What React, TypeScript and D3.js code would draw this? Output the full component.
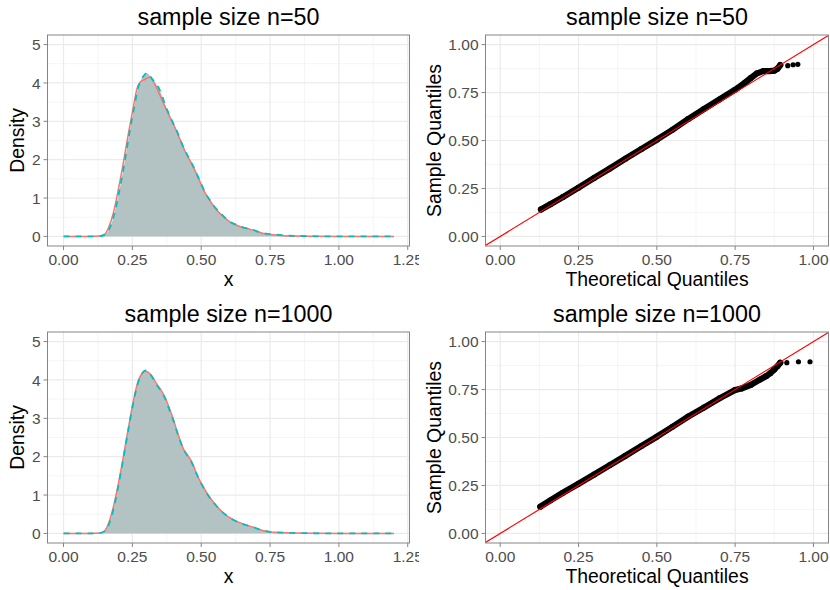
import React from 'react';
import * as d3 from 'd3';

const W = 830;
const H = 590;

const titles = ['sample size n=50', 'sample size n=1000'];
const densTicksX = [0, 0.25, 0.5, 0.75, 1, 1.25];
const densTickLabelsX = ['0.00', '0.25', '0.50', '0.75', '1.00', '1.25'];
const densMinorX = [0.125, 0.375, 0.625, 0.875, 1.125];
const densTicksY = [0, 1, 2, 3, 4, 5];
const densTickLabelsY = ['0', '1', '2', '3', '4', '5'];
const densMinorY = [0.5, 1.5, 2.5, 3.5, 4.5];
const qqTicks = [0, 0.25, 0.5, 0.75, 1];
const qqTickLabels = ['0.00', '0.25', '0.50', '0.75', '1.00'];
const qqMinor = [0.125, 0.375, 0.625, 0.875];

// n = 50 : theoretical (red, solid) and sample density (cyan, dashed)
const red50X = [0, 0.1, 0.13, 0.15, 0.163, 0.181, 0.199, 0.217, 0.236, 0.254, 0.266, 0.278, 0.295, 0.314, 0.332, 0.35, 0.368, 0.387, 0.405, 0.423, 0.441, 0.459, 0.477, 0.495, 0.513, 0.53, 0.55, 0.568, 0.586, 0.604, 0.622, 0.64, 0.658, 0.676, 0.694, 0.712, 0.731, 0.75, 0.767, 0.8, 0.84, 0.9, 1.0, 1.2];
const red50Y = [0, 0, 0.01, 0.06, 0.22, 0.61, 1.22, 1.91, 2.7, 3.39, 3.83, 4.02, 4.09, 4.15, 3.96, 3.68, 3.39, 3.1, 2.83, 2.53, 2.22, 1.98, 1.72, 1.43, 1.15, 0.95, 0.74, 0.6, 0.48, 0.38, 0.31, 0.26, 0.22, 0.19, 0.15, 0.11, 0.07, 0.05, 0.04, 0.02, 0.01, 0.005, 0, 0];
const cyan50X = [0, 0.1, 0.13, 0.15, 0.168, 0.185, 0.203, 0.221, 0.239, 0.257, 0.27, 0.283, 0.295, 0.302, 0.31, 0.322, 0.335, 0.345, 0.356, 0.368, 0.38, 0.395, 0.41, 0.425, 0.441, 0.459, 0.477, 0.495, 0.513, 0.53, 0.55, 0.568, 0.586, 0.604, 0.622, 0.64, 0.658, 0.676, 0.69, 0.7, 0.712, 0.731, 0.75, 0.767, 0.8, 0.84, 0.9, 1.0, 1.2];
const cyan50Y = [0, 0, 0.005, 0.04, 0.22, 0.6, 1.2, 1.9, 2.68, 3.38, 3.85, 4.1, 4.22, 4.26, 4.22, 4.1, 3.98, 3.88, 3.7, 3.45, 3.24, 3.0, 2.78, 2.5, 2.24, 2.0, 1.74, 1.45, 1.16, 0.96, 0.76, 0.62, 0.49, 0.38, 0.32, 0.27, 0.22, 0.19, 0.17, 0.14, 0.11, 0.08, 0.06, 0.05, 0.03, 0.015, 0.005, 0, 0];

// n = 1000
const red1000X = [0, 0.1, 0.13, 0.15, 0.163, 0.181, 0.199, 0.217, 0.236, 0.254, 0.272, 0.285, 0.296, 0.305, 0.314, 0.326, 0.338, 0.35, 0.362, 0.375, 0.387, 0.4, 0.411, 0.423, 0.435, 0.447, 0.459, 0.471, 0.483, 0.497, 0.513, 0.53, 0.55, 0.568, 0.586, 0.604, 0.622, 0.64, 0.658, 0.676, 0.694, 0.712, 0.731, 0.75, 0.767, 0.8, 0.84, 0.9, 1.0, 1.2];
const red1000Y = [0, 0, 0.01, 0.07, 0.25, 0.69, 1.29, 1.99, 2.77, 3.47, 3.99, 4.17, 4.23, 4.21, 4.16, 4.04, 3.9, 3.78, 3.64, 3.44, 3.21, 2.95, 2.69, 2.44, 2.21, 2.07, 1.95, 1.78, 1.56, 1.35, 1.14, 0.95, 0.77, 0.62, 0.5, 0.41, 0.34, 0.28, 0.23, 0.19, 0.15, 0.1, 0.06, 0.04, 0.03, 0.02, 0.01, 0.005, 0, 0];
const cyan1000X = [0, 0.1, 0.13, 0.15, 0.165, 0.183, 0.2, 0.218, 0.237, 0.255, 0.273, 0.286, 0.298, 0.306, 0.315, 0.327, 0.339, 0.35, 0.362, 0.375, 0.387, 0.4, 0.411, 0.423, 0.435, 0.447, 0.459, 0.471, 0.483, 0.497, 0.513, 0.53, 0.55, 0.568, 0.586, 0.604, 0.622, 0.64, 0.658, 0.676, 0.694, 0.712, 0.731, 0.75, 0.767, 0.8, 0.84, 0.9, 1.0, 1.2];
const cyan1000Y = [0, 0, 0.008, 0.06, 0.24, 0.68, 1.27, 1.98, 2.76, 3.46, 3.98, 4.18, 4.25, 4.22, 4.15, 4.02, 3.86, 3.76, 3.62, 3.41, 3.17, 2.92, 2.67, 2.42, 2.2, 2.06, 1.94, 1.76, 1.55, 1.34, 1.13, 0.94, 0.76, 0.61, 0.5, 0.41, 0.33, 0.28, 0.23, 0.19, 0.15, 0.1, 0.06, 0.04, 0.03, 0.02, 0.01, 0.005, 0, 0];

// Q-Q plot values (theoretical vs sample quantiles)
const qqTheo50 = [0.13, 0.16, 0.2, 0.25, 0.3, 0.35, 0.4, 0.45, 0.5, 0.55, 0.6, 0.65, 0.7, 0.75, 0.78, 0.8, 0.82, 0.84, 0.86, 0.875, 0.885, 0.894];
const qqSamp50 = [0.14, 0.168, 0.205, 0.254, 0.305, 0.354, 0.405, 0.455, 0.504, 0.556, 0.612, 0.664, 0.714, 0.765, 0.8, 0.826, 0.85, 0.862, 0.862, 0.864, 0.874, 0.893];
const qqOutTheo50 = [0.918, 0.935, 0.95];
const qqOutSamp50 = [0.89, 0.895, 0.897];
const qqTheo1000 = [0.128, 0.16, 0.2, 0.25, 0.3, 0.35, 0.4, 0.45, 0.5, 0.55, 0.6, 0.65, 0.7, 0.75, 0.77, 0.8, 0.83, 0.85, 0.862, 0.875, 0.885, 0.894];
const qqSamp1000 = [0.139, 0.172, 0.212, 0.259, 0.307, 0.356, 0.405, 0.455, 0.504, 0.556, 0.609, 0.656, 0.704, 0.748, 0.755, 0.774, 0.803, 0.821, 0.835, 0.855, 0.872, 0.89];
const qqOutTheo1000 = [0.915, 0.952, 0.989];
const qqOutSamp1000 = [0.89, 0.895, 0.895];

const FONT = 'Liberation Sans, Arial, Helvetica, sans-serif';
const TICK_FS = 15.5;
const AXIS_FS = 19.4;
const TITLE_FS = 23.3;
const TICK_COLOR = '#4d4d4d';
const BORDER = '#858585';
const GRID = '#ebebeb';
const GRID_MINOR = '#f2f2f2';

const ROW_TOP = [35, 332];
const PANEL_H = 211;

type DensProps = { top: number; title: string; rx: number[]; ry: number[]; cx: number[]; cy: number[]; id: string };

function DensityPanel({ top, title, rx, ry, cx, cy, id }: DensProps) {
  const left = 47.5;
  const right = 409.5;
  const bottom = top + PANEL_H;
  const x = d3.scaleLinear().domain([-0.06, 1.26]).range([left - 0.5, right + 1]);
  const y = d3.scaleLinear().domain([-0.25, 5.25]).range([bottom, top]);
  const redPts = rx.map((v, i) => [v, ry[i]] as [number, number]);
  const cyanPts = cx.map((v, i) => [v, cy[i]] as [number, number]);
  const line = d3.line<[number, number]>().x(d => x(d[0])).y(d => y(d[1])).curve(d3.curveMonotoneX);
  const area = d3.area<[number, number]>().x(d => x(d[0])).y0(y(0)).y1(d => y(d[1])).curve(d3.curveMonotoneX);
  const cxm = (left + right) / 2;
  const cym = (top + bottom) / 2;
  return (
    <g>
      <defs>
        <clipPath id={id}>
          <rect x={left} y={top} width={right - left} height={bottom - top} />
        </clipPath>
      </defs>
      <rect x={left} y={top} width={right - left} height={bottom - top} fill="#fff" />
      <g clipPath={`url(#${id})`}>
        {densMinorX.map(v => <line key={'mx' + v} x1={x(v)} x2={x(v)} y1={top} y2={bottom} stroke={GRID_MINOR} strokeWidth={0.8} />)}
        {densMinorY.map(v => <line key={'my' + v} y1={y(v)} y2={y(v)} x1={left} x2={right} stroke={GRID_MINOR} strokeWidth={0.8} />)}
        {densTicksX.map(v => <line key={'gx' + v} x1={x(v)} x2={x(v)} y1={top} y2={bottom} stroke={GRID} strokeWidth={1.2} />)}
        {densTicksY.map(v => <line key={'gy' + v} y1={y(v)} y2={y(v)} x1={left} x2={right} stroke={GRID} strokeWidth={1.2} />)}
        <path d={area(cyanPts) || ''} fill="#b3c3c3" />
        <path d={line(redPts) || ''} fill="none" stroke="#F8766D" strokeWidth={1.5} />
        <path d={line(cyanPts) || ''} fill="none" stroke="#00BFC4" strokeWidth={1.8} strokeDasharray="6,6" />
      </g>
      <rect x={left} y={top} width={right - left} height={bottom - top} fill="none" stroke={BORDER} strokeWidth={1} />
      {densTicksX.map((v, i) => (
        <g key={'tx' + v}>
          <line x1={x(v)} x2={x(v)} y1={bottom} y2={bottom + 4} stroke={BORDER} strokeWidth={1} />
          <text x={x(v)} y={bottom + 19} textAnchor="middle" fontSize={TICK_FS} fill={TICK_COLOR} fontFamily={FONT}>{densTickLabelsX[i]}</text>
        </g>
      ))}
      {densTicksY.map((v, i) => (
        <g key={'ty' + v}>
          <line x1={left - 4} x2={left} y1={y(v)} y2={y(v)} stroke={BORDER} strokeWidth={1} />
          <text x={left - 7} y={y(v)} dy="0.36em" textAnchor="end" fontSize={TICK_FS} fill={TICK_COLOR} fontFamily={FONT}>{densTickLabelsY[i]}</text>
        </g>
      ))}
      <text x={cxm} y={top - 10} textAnchor="middle" fontSize={TITLE_FS} fill="#000" fontFamily={FONT}>{title}</text>
      <text x={cxm} y={bottom + 39.5} textAnchor="middle" fontSize={AXIS_FS} fill="#000" fontFamily={FONT}>x</text>
      <text transform={`translate(23.5,${cym}) rotate(-90)`} textAnchor="middle" fontSize={AXIS_FS} fill="#000" fontFamily={FONT}>Density</text>
    </g>
  );
}

type QQProps = { top: number; title: string; tx: number[]; sy: number[]; ox: number[]; oy: number[]; id: string };

function QQPanel({ top, title, tx, sy, ox, oy, id }: QQProps) {
  const left = 485.5;
  const right = 828.5;
  const bottom = top + PANEL_H;
  const x = d3.scaleLinear().domain([-0.047, 1.048]).range([left, right]);
  const y = d3.scaleLinear().domain([-0.05, 1.05]).range([bottom, top]);
  const pts = tx.map((v, i) => [v, sy[i]] as [number, number]);
  const outs = ox.map((v, i) => [v, oy[i]] as [number, number]);
  const line = d3.line<[number, number]>().x(d => x(d[0])).y(d => y(d[1]));
  const cxm = (left + right) / 2;
  const cym = (top + bottom) / 2;
  return (
    <g>
      <defs>
        <clipPath id={id}>
          <rect x={left} y={top} width={right - left} height={bottom - top} />
        </clipPath>
      </defs>
      <rect x={419} y={top - 35} width={W - 419} height={bottom - top + 80} fill="#fff" />
      <g clipPath={`url(#${id})`}>
        {qqMinor.map(v => <line key={'mx' + v} x1={x(v)} x2={x(v)} y1={top} y2={bottom} stroke={GRID_MINOR} strokeWidth={0.8} />)}
        {qqMinor.map(v => <line key={'my' + v} y1={y(v)} y2={y(v)} x1={left} x2={right} stroke={GRID_MINOR} strokeWidth={0.8} />)}
        {qqTicks.map(v => <line key={'gx' + v} x1={x(v)} x2={x(v)} y1={top} y2={bottom} stroke={GRID} strokeWidth={1.2} />)}
        {qqTicks.map(v => <line key={'gy' + v} y1={y(v)} y2={y(v)} x1={left} x2={right} stroke={GRID} strokeWidth={1.2} />)}
        <path d={line(pts) || ''} fill="none" stroke="#000" strokeWidth={6.2} strokeLinecap="round" strokeLinejoin="round" />
        {pts.map((p, i) => <circle key={'p' + i} cx={x(p[0])} cy={y(p[1])} r={3} fill="#000" />)}
        {outs.map((p, i) => <circle key={'o' + i} cx={x(p[0])} cy={y(p[1])} r={2.6} fill="#000" />)}
        <line x1={x(-0.1)} y1={y(-0.1)} x2={x(1.1)} y2={y(1.1)} stroke="#ff0000" strokeWidth={1.2} />
      </g>
      <rect x={left} y={top} width={right - left} height={bottom - top} fill="none" stroke={BORDER} strokeWidth={1} />
      {qqTicks.map((v, i) => (
        <g key={'tx' + v}>
          <line x1={x(v)} x2={x(v)} y1={bottom} y2={bottom + 4} stroke={BORDER} strokeWidth={1} />
          <text x={x(v)} y={bottom + 19} textAnchor="middle" fontSize={TICK_FS} fill={TICK_COLOR} fontFamily={FONT}>{qqTickLabels[i]}</text>
        </g>
      ))}
      {qqTicks.map((v, i) => (
        <g key={'ty' + v}>
          <line x1={left - 4} x2={left} y1={y(v)} y2={y(v)} stroke={BORDER} strokeWidth={1} />
          <text x={left - 7} y={y(v)} dy="0.36em" textAnchor="end" fontSize={TICK_FS} fill={TICK_COLOR} fontFamily={FONT}>{qqTickLabels[i]}</text>
        </g>
      ))}
      <text x={cxm} y={top - 10} textAnchor="middle" fontSize={TITLE_FS} fill="#000" fontFamily={FONT}>{title}</text>
      <text x={cxm} y={bottom + 39.5} textAnchor="middle" fontSize={AXIS_FS} fill="#000" fontFamily={FONT}>Theoretical Quantiles</text>
      <text transform={`translate(441,${cym}) rotate(-90)`} textAnchor="middle" fontSize={AXIS_FS} fill="#000" fontFamily={FONT}>Sample Quantiles</text>
    </g>
  );
}

export default function App() {
  return (
    <div style={{ position: 'absolute', left: 0, top: 0, width: W, height: H, background: '#fff' }}>
      <svg width={W} height={H} viewBox={`0 0 ${W} ${H}`} style={{ display: 'block' }}>
        <rect x={0} y={0} width={W} height={H} fill="#fff" />
        <DensityPanel top={ROW_TOP[0]} title={titles[0]} rx={red50X} ry={red50Y} cx={cyan50X} cy={cyan50Y} id="cd0" />
        <QQPanel top={ROW_TOP[0]} title={titles[0]} tx={qqTheo50} sy={qqSamp50} ox={qqOutTheo50} oy={qqOutSamp50} id="cq0" />
        <DensityPanel top={ROW_TOP[1]} title={titles[1]} rx={red1000X} ry={red1000Y} cx={cyan1000X} cy={cyan1000Y} id="cd1" />
        <QQPanel top={ROW_TOP[1]} title={titles[1]} tx={qqTheo1000} sy={qqSamp1000} ox={qqOutTheo1000} oy={qqOutSamp1000} id="cq1" />
      </svg>
    </div>
  );
}
